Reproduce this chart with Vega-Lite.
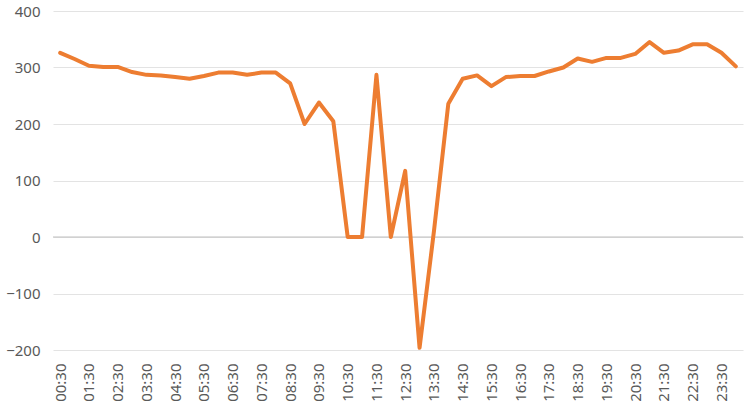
{
  "$schema": "https://vega.github.io/schema/vega-lite/v6.json",
  "autosize": {"type": "fit", "contains": "padding"},
  "width": 750,
  "height": 410,
  "padding": {"left": 5, "right": 6, "top": 4, "bottom": 8},
  "background": "#ffffff",
  "config": {
    "view": {"stroke": null},
    "font": "Noto Sans"
  },
  "layer": [
    {
      "data": {"values": [{"v": 0}]},
      "mark": {"type": "rule", "color": "#bfbfbf", "strokeWidth": 1},
      "encoding": {
        "y": {"field": "v", "type": "quantitative", "scale": {"domain": [-200, 400], "nice": false}}
      }
    },
    {
      "data": {
        "values": [
          {"time": "00:30", "value": 326},
          {"time": "01:00", "value": 315},
          {"time": "01:30", "value": 303},
          {"time": "02:00", "value": 301},
          {"time": "02:30", "value": 301},
          {"time": "03:00", "value": 292},
          {"time": "03:30", "value": 287},
          {"time": "04:00", "value": 286},
          {"time": "04:30", "value": 283},
          {"time": "05:00", "value": 280},
          {"time": "05:30", "value": 285},
          {"time": "06:00", "value": 291},
          {"time": "06:30", "value": 291},
          {"time": "07:00", "value": 287},
          {"time": "07:30", "value": 291},
          {"time": "08:00", "value": 291},
          {"time": "08:30", "value": 272},
          {"time": "09:00", "value": 200},
          {"time": "09:30", "value": 238},
          {"time": "10:00", "value": 205},
          {"time": "10:30", "value": 0},
          {"time": "11:00", "value": 0},
          {"time": "11:30", "value": 287},
          {"time": "12:00", "value": 0},
          {"time": "12:30", "value": 117},
          {"time": "13:00", "value": -196},
          {"time": "13:30", "value": 10},
          {"time": "14:00", "value": 236},
          {"time": "14:30", "value": 280},
          {"time": "15:00", "value": 286},
          {"time": "15:30", "value": 267},
          {"time": "16:00", "value": 283},
          {"time": "16:30", "value": 285},
          {"time": "17:00", "value": 285},
          {"time": "17:30", "value": 293},
          {"time": "18:00", "value": 300},
          {"time": "18:30", "value": 316},
          {"time": "19:00", "value": 310},
          {"time": "19:30", "value": 317},
          {"time": "20:00", "value": 317},
          {"time": "20:30", "value": 324},
          {"time": "21:00", "value": 345},
          {"time": "21:30", "value": 326},
          {"time": "22:00", "value": 330},
          {"time": "22:30", "value": 341},
          {"time": "23:00", "value": 341},
          {"time": "23:30", "value": 326},
          {"time": "24:00", "value": 302}
        ]
      },
      "mark": {"type": "line", "color": "#ED7D31", "strokeWidth": 4, "strokeJoin": "round", "strokeCap": "round"},
      "encoding": {
        "x": {
          "field": "time",
          "type": "ordinal",
          "sort": null,
          "scale": {"type": "point", "padding": 0.5},
          "axis": {
            "title": null,
            "values": ["00:30","01:30","02:30","03:30","04:30","05:30","06:30","07:30","08:30","09:30","10:30","11:30","12:30","13:30","14:30","15:30","16:30","17:30","18:30","19:30","20:30","21:30","22:30","23:30"],
            "labelAngle": -90,
            "labelFontSize": 15,
            "labelColor": "#595959",
            "labelPadding": 13,
            "ticks": false,
            "domain": false,
            "grid": false
          }
        },
        "y": {
          "field": "value",
          "type": "quantitative",
          "scale": {"domain": [-200, 400], "nice": false},
          "axis": {
            "title": null,
            "values": [-200, -100, 0, 100, 200, 300, 400],
            "labelFontSize": 15,
            "labelColor": "#595959",
            "labelPadding": 13,
            "ticks": false,
            "domain": false,
            "grid": true,
            "gridColor": "#e3e3e3",
            "gridWidth": 1
          }
        }
      }
    }
  ]
}
